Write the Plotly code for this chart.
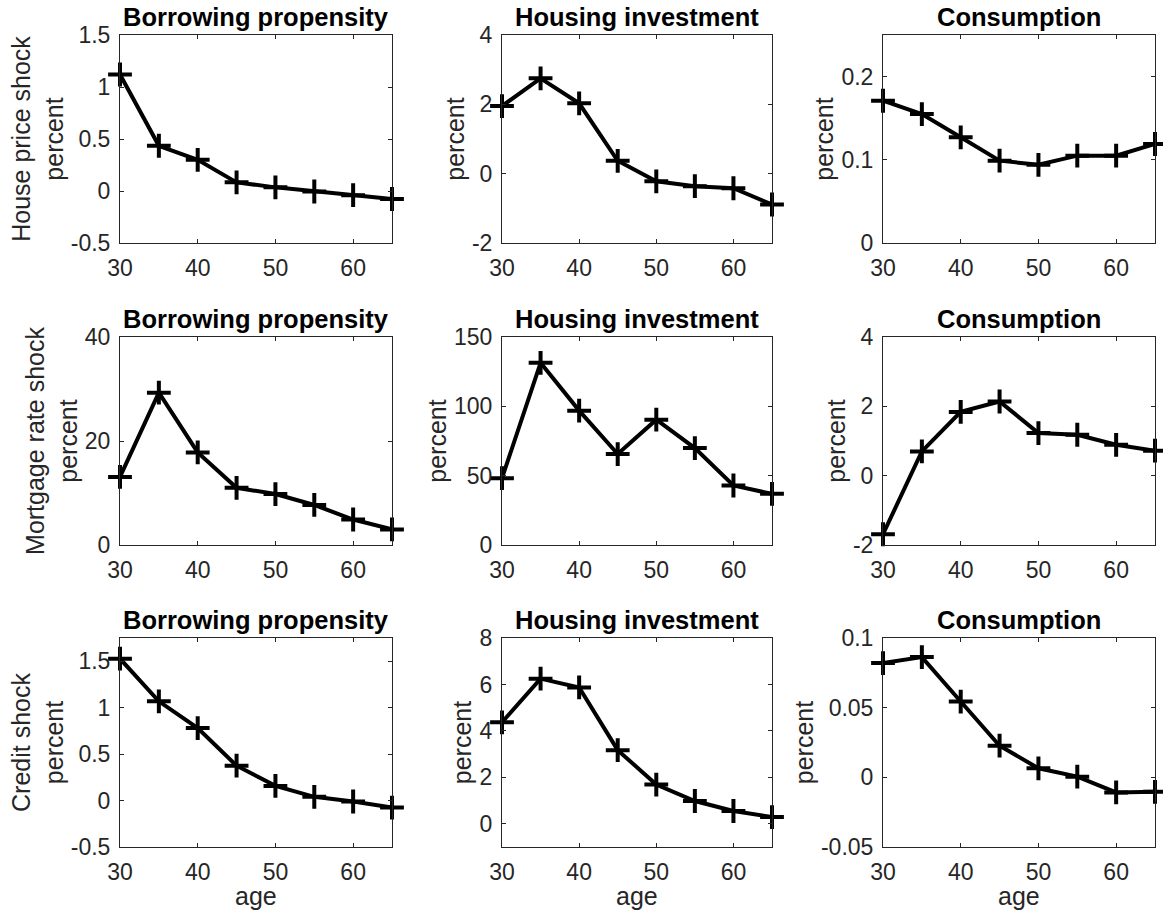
import plotly.graph_objects as go

# ---------------- data ----------------
ages = [30, 35, 40, 45, 50, 55, 60, 65]

house_borrow = [1.12, 0.435, 0.30, 0.083, 0.035, -0.005, -0.04, -0.077]
house_hinv = [1.95, 2.75, 2.03, 0.37, -0.22, -0.36, -0.42, -0.89]
house_cons = [0.171, 0.155, 0.127, 0.099, 0.094, 0.105, 0.105, 0.119]

mort_borrow = [13.1, 29.3, 17.8, 11.0, 9.8, 7.7, 4.9, 3.0]
mort_hinv = [48.2, 131.4, 96.9, 65.6, 90.4, 69.9, 42.9, 36.9]
mort_cons = [-1.69, 0.70, 1.84, 2.14, 1.23, 1.18, 0.89, 0.72]

cred_borrow = [1.527, 1.068, 0.78, 0.375, 0.158, 0.04, -0.01, -0.076]
cred_hinv = [4.37, 6.25, 5.87, 3.17, 1.69, 0.98, 0.55, 0.29]
cred_cons = [0.082, 0.0863, 0.0544, 0.0227, 0.0065, 0.0005, -0.0108, -0.0104]

panel_titles = ["Borrowing propensity", "Housing investment", "Consumption"]
row_labels = ["House price shock", "Mortgage rate shock", "Credit shock"]
ylabel_text = "percent"
xlabel_text = "age"

x_ticks = [30, 40, 50, 60]

y_ranges = [
    [-0.5, 1.5], [-2, 4], [0, 0.25],
    [0, 40], [0, 150], [-2, 4],
    [-0.5, 1.75], [-1, 8], [-0.05, 0.1],
]
y_tickvals = [
    [-0.5, 0, 0.5, 1, 1.5], [-2, 0, 2, 4], [0, 0.1, 0.2],
    [0, 20, 40], [0, 50, 100, 150], [-2, 0, 2, 4],
    [-0.5, 0, 0.5, 1, 1.5], [0, 2, 4, 6, 8], [-0.05, 0, 0.05, 0.1],
]
y_ticktext = [
    ["-0.5", "0", "0.5", "1", "1.5"], ["-2", "0", "2", "4"], ["0", "0.1", "0.2"],
    ["0", "20", "40"], ["0", "50", "100", "150"], ["-2", "0", "2", "4"],
    ["-0.5", "0", "0.5", "1", "1.5"], ["0", "2", "4", "6", "8"], ["-0.05", "0", "0.05", "0.1"],
]

series = [house_borrow, house_hinv, house_cons,
          mort_borrow, mort_hinv, mort_cons,
          cred_borrow, cred_hinv, cred_cons]

# ---------------- layout ----------------
W, H = 1163, 922
col_px = [(120, 392), (502, 772), (883, 1155)]
row_px = [(35, 243), (337, 545), (638, 847)]
XLABEL_TOP_PX = 881

FONT = "Liberation Sans, Arial, Helvetica, sans-serif"
AX = "#262626"
TICK_SIZE = 23
LAB_SIZE = 25
TITLE_SIZE = 25.5

fig = go.Figure()
layout = dict(
    width=W, height=H,
    margin=dict(l=0, r=0, t=0, b=0, autoexpand=False),
    paper_bgcolor="white", plot_bgcolor="white",
    showlegend=False,
    font=dict(family=FONT, color=AX, size=TICK_SIZE),
    annotations=[],
)

for i in range(9):
    r, c = divmod(i, 3)
    n = i + 1
    xa = "x" if n == 1 else f"x{n}"
    ya = "y" if n == 1 else f"y{n}"
    x0, x1 = col_px[c]
    y0, y1 = row_px[r]
    xdom = [x0 / W, x1 / W]
    ydom = [1 - y1 / H, 1 - y0 / H]

    fig.add_trace(go.Scatter(
        x=ages, y=series[i], xaxis=xa, yaxis=ya,
        mode="lines+markers",
        line=dict(color="black", width=4),
        marker=dict(symbol="cross-thin", size=17, color="black",
                    line=dict(color="black", width=4)),
        cliponaxis=False, hoverinfo="skip",
    ))

    common = dict(
        showline=True, linecolor=AX, linewidth=1, mirror="allticks",
        ticks="inside", ticklen=4, tickcolor=AX, tickwidth=1,
        showgrid=False, zeroline=False, automargin=False,
        tickfont=dict(family=FONT, size=TICK_SIZE, color=AX),
    )
    xkey = "xaxis" if n == 1 else f"xaxis{n}"
    ykey = "yaxis" if n == 1 else f"yaxis{n}"
    layout[xkey] = dict(common, domain=xdom, range=[30, 65], tickvals=x_ticks,
                        ticktext=[str(v) for v in x_ticks], anchor=ya,
                        ticklabelstandoff=4)

    ytitle = ylabel_text if c > 0 else f"{row_labels[r]}<br>{ylabel_text}"
    layout[ykey] = dict(common, domain=ydom, range=y_ranges[i],
                        tickvals=y_tickvals[i], ticktext=y_ticktext[i],
                        anchor=xa, ticklabelstandoff=4,
                        title=dict(text=ytitle, font=dict(family=FONT, size=LAB_SIZE, color=AX), standoff=0))

    layout["annotations"].append(dict(
        text=f"<b>{panel_titles[c]}</b>", xref="paper", yref="paper",
        x=(xdom[0] + xdom[1]) / 2, y=ydom[1], xanchor="center", yanchor="bottom",
        showarrow=False, font=dict(family=FONT, size=TITLE_SIZE, color="black"),
        yshift=2,
    ))
    if r == 2:
        layout["annotations"].append(dict(
            text=xlabel_text, xref="paper", yref="paper",
            x=(xdom[0] + xdom[1]) / 2, y=1 - XLABEL_TOP_PX / H,
            xanchor="center", yanchor="top", showarrow=False,
            font=dict(family=FONT, size=LAB_SIZE, color=AX),
            borderpad=0,
        ))

fig.update_layout(**layout)
fig.write_html("out.html", config={"displayModeBar": False},
               post_script="document.body.style.margin='0px';")
